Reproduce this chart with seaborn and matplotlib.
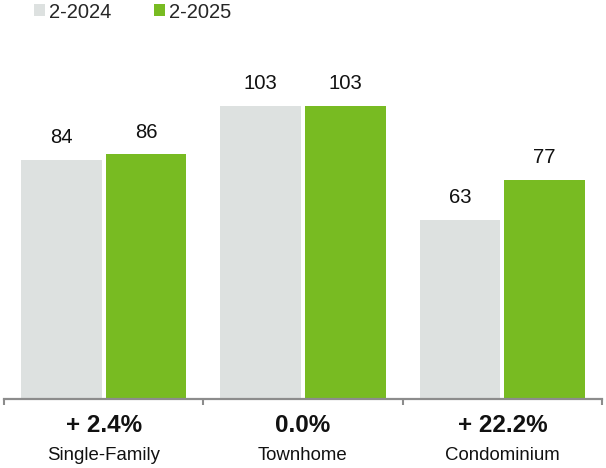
import matplotlib
matplotlib.use("Agg")
import matplotlib.pyplot as plt
from matplotlib.patches import Patch
from matplotlib.transforms import blended_transform_factory
import seaborn as sns
import pandas as pd

# Data
categories = ["Single-Family", "Townhome", "Condominium"]
periods = ["2-2024", "2-2025"]
values_2024 = [84, 103, 63]
values_2025 = [86, 103, 77]

colors = {"2-2024": "#dde1e0", "2-2025": "#78bb22"}
axis_gray = "#8c8c8c"

df = pd.DataFrame({
    "category": categories * 2,
    "period": [periods[0]] * 3 + [periods[1]] * 3,
    "value": values_2024 + values_2025,
})

sns.set_theme(style="white")
plt.rcParams["font.family"] = ["Liberation Sans", "DejaVu Sans"]

W, H = 606, 468
fig = plt.figure(figsize=(W / 100, H / 100), dpi=100)
ax = fig.add_axes([4 / W, (H - 399) / H, 598 / W, 369 / H])

sns.barplot(data=df, x="category", y="value", hue="period", order=categories,
            hue_order=periods, palette=colors, width=0.85, gap=0.045,
            saturation=1, linewidth=0, legend=False, ax=ax)

ax.set_xlim(-0.5, 2.5)
ax.set_ylim(0, 129.6)
ax.set_xlabel("")
ax.set_ylabel("")
ax.set_yticks([])
ax.set_xticks([-0.5, 0.5, 1.5, 2.5])
ax.set_xticklabels([])
ax.tick_params(axis="x", direction="out", length=4, width=1.5, color=axis_gray,
               bottom=True)
for side in ["top", "left", "right"]:
    ax.spines[side].set_visible(False)
ax.spines["bottom"].set_color(axis_gray)
ax.spines["bottom"].set_linewidth(1.6)

# Value labels on top of each bar
for container in ax.containers:
    ax.bar_label(container, fmt="%d", padding=9, fontsize=14.6, color="#111111")

# Year-over-year change and category name under each group
trans = blended_transform_factory(ax.transData, fig.transFigure)
for i, (cat, a, b) in enumerate(zip(categories, values_2024, values_2025)):
    change = (b - a) / a * 100
    pct = f"+ {change:.1f}%" if change > 0.05 else f"{change:.1f}%"
    ax.text(i, (H - 425.5) / H, pct, transform=trans, ha="center", va="center",
            fontsize=17.5, fontweight="bold", color="#111111")
    ax.text(i, (H - 455) / H, cat, transform=trans, ha="center", va="center",
            fontsize=13.4, color="#111111")

handles = [Patch(facecolor=colors[p], edgecolor="none", label=p) for p in periods]
fig.legend(handles=handles, loc="upper left", bbox_to_anchor=(32 / W, 1 - 0.5 / H),
           ncol=2, frameon=False, fontsize=14.5, handlelength=0.55,
           handleheight=0.55, handletextpad=0.2, columnspacing=2.1,
           borderaxespad=0, borderpad=0.1)

fig.savefig("out.png", dpi=100)
